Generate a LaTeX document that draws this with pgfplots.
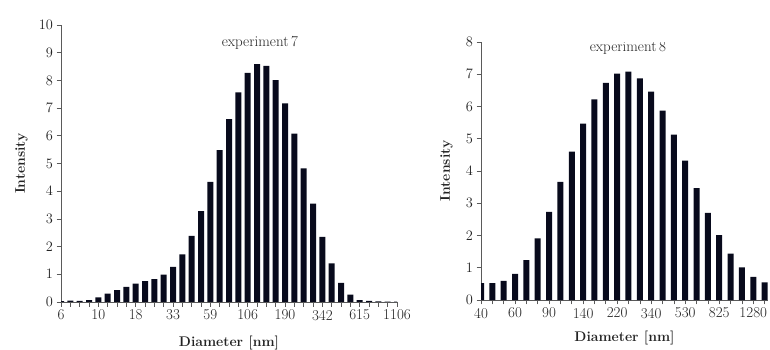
\documentclass[border=0pt]{standalone}
\usepackage{pgfplots}
\pgfplotsset{compat=1.18}
\definecolor{barcol}{RGB}{8,10,28}
\definecolor{axcol}{RGB}{90,90,90}
\definecolor{txtcol}{RGB}{35,35,35}
\pgfplotstableread{
x y
0 0.03
1 0.05
2 0.04
3 0.07
4 0.17
5 0.30
6 0.43
7 0.55
8 0.66
9 0.75
10 0.83
11 0.99
12 1.27
13 1.72
14 2.39
15 3.28
16 4.34
17 5.48
18 6.60
19 7.57
20 8.27
21 8.59
22 8.52
23 8.01
24 7.17
25 6.08
26 4.82
27 3.55
28 2.35
29 1.39
30 0.69
31 0.27
32 0.07
33 0.04
34 0.02
35 0.01
36 0.01
}\expseven
\pgfplotstableread{
x y
0 0.52
1 0.52
2 0.59
3 0.81
4 1.24
5 1.91
6 2.73
7 3.66
8 4.60
9 5.47
10 6.22
11 6.73
12 7.02
13 7.08
14 6.87
15 6.46
16 5.87
17 5.13
18 4.32
19 3.47
20 2.70
21 2.01
22 1.44
23 1.01
24 0.72
25 0.55
}\expeight
\pgfplotsset{
  mystyle/.style={
    scale only axis,
    anchor=south west,
    axis x line*=bottom, axis y line*=left,
    axis line style={axcol, -},
    tick style={axcol, line width=0.6pt},
    tick align=outside,
    major tick length=4.5pt,
    ymin=0,
    ticklabel style={font=\fontsize{15}{17}\selectfont, text=txtcol},
    label style={font=\fontsize{14}{16}\selectfont\bfseries, text=txtcol},
    xlabel={Diameter [nm]},
    ylabel={Intensity},
  }
}
\begin{document}
\begin{tikzpicture}[x=1pt,y=1pt]
\useasboundingbox (0,0) rectangle (770,350);
\begin{axis}[
  mystyle,
  at={(61pt,48pt)},
  width=336pt, height=277pt,
  xmin=0, xmax=36, ymax=10,
  xtick={0,...,36},
  xticklabels={6,,,,10,,,,18,,,,33,,,,59,,,,106,,,,190,,,,342,,,,615,,,,1106},
  ytick={0,...,10},
  xlabel style={at={(axis description cs:0.5,-0.148)}, anchor=center},
  ylabel style={at={(axis description cs:-0.118,0.5)}, anchor=center},
]
\addplot[ybar, bar width=6pt, fill=barcol, draw=none] table[x=x,y=y] {\expseven};
\node[font=\fontsize{15}{17}\selectfont, text=txtcol] at (rel axis cs:0.592,0.935) {experiment\,7};
\end{axis}
\begin{axis}[
  mystyle,
  at={(481pt,50pt)},
  width=287pt, height=258pt,
  xmin=0, xmax=25.3, ymax=8,
  xtick={0,...,25},
  xticklabels={40,,,60,,,90,,,140,,,220,,,340,,,530,,,825,,,1280,},
  ytick={0,...,8},
  xlabel style={at={(axis description cs:0.5,-0.147)}, anchor=center},
  ylabel style={at={(axis description cs:-0.12,0.5)}, anchor=center},
]
\addplot[ybar, bar width=6pt, fill=barcol, draw=none] table[x=x,y=y] {\expeight};
\node[font=\fontsize{15}{17}\selectfont, text=txtcol] at (rel axis cs:0.512,0.977) {experiment\,8};
\end{axis}
\end{tikzpicture}
\end{document}
